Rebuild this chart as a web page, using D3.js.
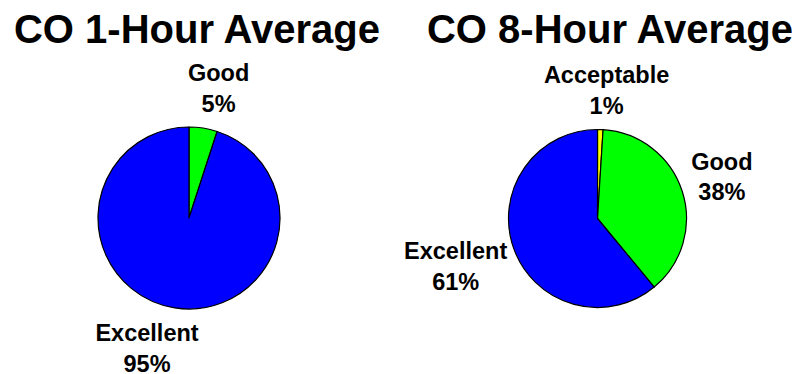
<!DOCTYPE html>
<html>
<head>
<meta charset="utf-8">
<script src="https://cdn.jsdelivr.net/npm/d3@7"></script>
<style>
  html, body { margin: 0; padding: 0; background: #fff; }
  svg { display: block; }
  text { font-family: "Liberation Sans", Arial, sans-serif; font-weight: bold; fill: #000; }
</style>
</head>
<body>
<svg id="chart" width="806" height="374"></svg>
<script>
// ---- data ----
const categories = ["Acceptable", "Good", "Excellent"];
const titles = ["CO 1-Hour Average", "CO 8-Hour Average"];
const values1Hour = [0, 5, 95];
const values8Hour = [1, 38, 61];
const colors = ["#FFFF00", "#00FF00", "#0000FF"];

// ---- layout ----
const panels = [
  { values: values1Hour, title: titles[0], cx: 189, cy: 218, r: 91, titleX: 197 },
  { values: values8Hour, title: titles[1], cx: 597.5, cy: 218.5, r: 89, titleX: 610 }
];
const titleBaseline = 43;
const titleSize = 40;
const labelSize = 23.5;
const lineGap = 30.5;
const labelGap = 10;
// small manual nudges to mimic the original label placement
const nudges = [
  { Good: [9, -2], Excellent: [-18, 3] },
  { Acceptable: [4, -1], Good: [1, -2], Excellent: [0, 5] }
];

const svg = d3.select("#chart");
const color = d3.scaleOrdinal().domain(categories).range(colors);
const pie = d3.pie().sort(null).value(d => d.value);

panels.forEach((p, pi) => {
  const data = categories.map((c, i) => ({ cat: c, value: p.values[i] })).filter(d => d.value > 0);
  const arcs = pie(data);
  const arc = d3.arc().innerRadius(0).outerRadius(p.r);
  const g = svg.append("g").attr("transform", `translate(${p.cx},${p.cy})`);

  g.selectAll("path").data(arcs).join("path")
    .attr("d", arc)
    .attr("fill", d => color(d.data.cat))
    .attr("stroke", "#000")
    .attr("stroke-width", 1.2)
    .attr("stroke-linejoin", "round");

  svg.append("text")
    .attr("x", p.titleX).attr("y", titleBaseline)
    .attr("text-anchor", "middle")
    .style("font-size", titleSize + "px")
    .text(p.title);

  arcs.forEach(a => {
    const mid = (a.startAngle + a.endAngle) / 2;
    const dx = Math.sin(mid), dy = -Math.cos(mid);
    const pct = Math.round(a.data.value) + "%";
    const lg = g.append("g");
    const t = lg.append("text").attr("text-anchor", "middle").style("font-size", labelSize + "px");
    t.append("tspan").attr("x", 0).attr("y", 0).text(a.data.cat);
    t.append("tspan").attr("x", 0).attr("y", lineGap).text(pct);
    const bb = t.node().getBBox();
    const bcx = bb.x + bb.width / 2, bcy = bb.y + bb.height / 2;
    const R = p.r + labelGap;
    const nd = (nudges[pi] && nudges[pi][a.data.cat]) || [0, 0];
    const tx = R * dx + dx * bb.width / 2 - bcx + nd[0];
    const ty = R * dy + dy * bb.height / 2 - bcy + nd[1];
    lg.attr("transform", `translate(${tx},${ty})`);
  });
});
</script>
</body>
</html>
